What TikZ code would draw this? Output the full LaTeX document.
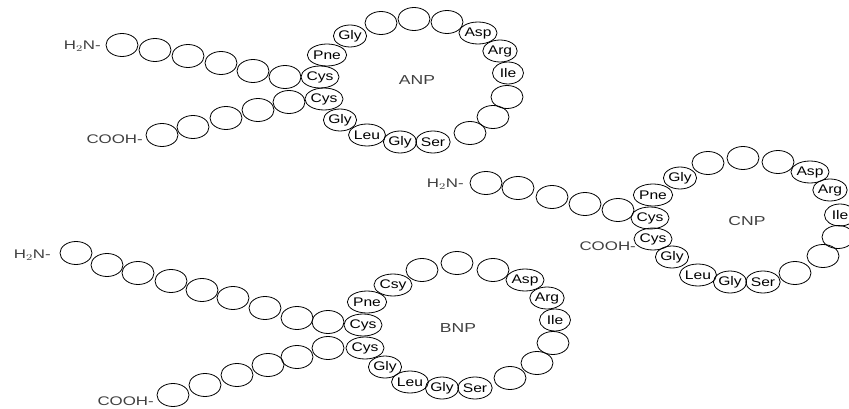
\documentclass[tikz,border=0pt]{standalone}
\usepackage{fontspec}
\usepackage{graphicx}
\usetikzlibrary{shapes.geometric}
\setmainfont{Liberation Sans}
\newcommand\widetxt[1]{\scalebox{1.35}[1]{#1}}
\newcommand\aatxt[1]{\scalebox{1.25}[1]{#1}}
\begin{document}
\begin{tikzpicture}[x=1pt,y=-1pt,
  res/.style={ellipse,draw=black,line width=0.8pt,minimum width=32pt,minimum height=23pt,inner sep=0pt},
  aa/.style={ellipse,draw=black,line width=0.8pt,minimum width=31pt,minimum height=22pt,inner sep=0pt,font=\fontsize{12.5}{12}\selectfont},
  term/.style={anchor=east,inner sep=0pt,text=black!75,font=\fontsize{12.5}{12}\selectfont},
  pname/.style={inner sep=0pt,text=black!75,font=\fontsize{13}{13}\selectfont}]
\clip (0,0) rectangle (849,409);
\fill[white] (0,0) rectangle (849,409);
% ---------------- ANP ----------------
\node[term] (aH) at (101,46) {\widetxt{H$_2$N-}};
\foreach \n/\x/\y in {1/122/45,2/155/50,3/188/56,4/221/63,5/253/71,6/285/77}
  \node[res] (au\n) at (\x,\y) {};
\foreach \n/\x/\y in {1/162/135,2/193/127,3/226/118,4/258/110,5/289/102}
  \node[res] (al\n) at (\x,\y) {};
\node[term] (aC) at (143,139) {\widetxt{COOH-}};
\foreach \n/\x/\y/\s/\t in {1/320/77/aa/Cys,2/327/55/aa/Pne,3/350/36/aa/Gly,4/381/23/res/,5/414/19/res/,6/447/22/res/,
  7/478/33/aa/Asp,8/500/51/aa/Arg,9/508/73/aa/Ile,10/507/97/res/,11/493/117/res/,12/470/133/res/,
  13/433/142/aa/Ser,14/400/142/aa/Gly,15/367/135/aa/Leu,16/340/120/aa/Gly,17/324/99/aa/Cys}
  \node[\s] (ar\n) at (\x,\y) {\aatxt{\t}};
\node[pname] (aN) at (417,80) {\widetxt{ANP}};
% ---------------- CNP ----------------
\node[term] (cH) at (464,184) {\widetxt{H$_2$N-}};
\foreach \n/\x/\y in {1/486/183,2/518/188,3/552/197,4/585/204,5/618/210}
  \node[res] (cu\n) at (\x,\y) {};
\foreach \n/\x/\y/\s/\t in {1/650/218/aa/Cys,2/653/195/aa/Pne,3/680/178/aa/Gly,4/708/163/res/,5/743/158/res/,6/778/162/res/,
  7/810/172/aa/Asp,8/830/190/aa/Arg,9/840/215/aa/Ile,10/838/237/res/,11/823/256/res/,12/795/273/res/,
  13/763/282/aa/Ser,14/730/282/aa/Gly,15/698/275/aa/Leu,16/672/257/aa/Gly,17/653/239/aa/Cys}
  \node[\s] (cr\n) at (\x,\y) {\aatxt{\t}};
\node[term] (cC) at (636,246) {\widetxt{COOH-}};
\node[pname] (cN) at (747,221) {\widetxt{CNP}};
% ---------------- BNP ----------------
\node[term] (bH) at (51,255) {\widetxt{H$_2$N-}};
\foreach \n/\x/\y in {1/76/253,2/107/265,3/138/273,4/171/281,5/202/290,6/233/298,7/265/308,8/297/318,9/328/322}
  \node[res] (bu\n) at (\x,\y) {};
\foreach \n/\x/\y in {1/173/395,2/205/385,3/237/375,4/268/365,5/297/357,6/328/348}
  \node[res] (bl\n) at (\x,\y) {};
\node[term] (bC) at (154,401) {\widetxt{COOH-}};
\foreach \n/\x/\y/\s/\t in {1/363/325/aa/Cys,2/367/302/aa/Pne,3/393/285/aa/Csy,4/422/270/res/,5/457/263/res/,6/493/270/res/,
  7/525/280/aa/Asp,8/547/298/aa/Arg,9/555/320/aa/Ile,10/553/343/res/,11/537/363/res/,12/510/378/res/,
  13/475/388/aa/Ser,14/442/388/aa/Gly,15/410/382/aa/Leu,16/385/367/aa/Gly,17/365/348/aa/Cys}
  \node[\s] (br\n) at (\x,\y) {\aatxt{\t}};
\node[pname] (bN) at (458,328) {\widetxt{BNP}};
\end{tikzpicture}
\end{document}
